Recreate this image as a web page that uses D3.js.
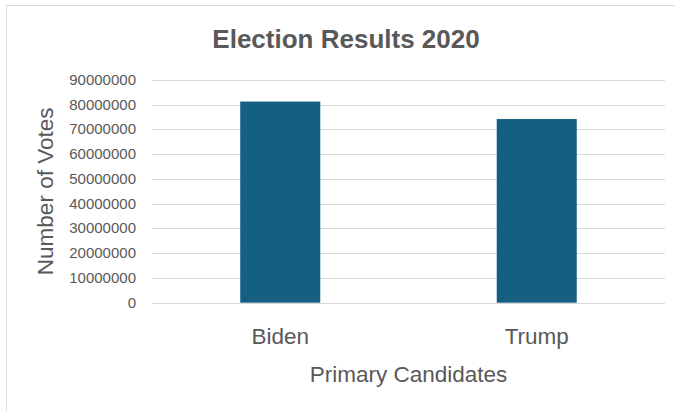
<!DOCTYPE html>
<html>
<head>
<meta charset="utf-8">
<script src="https://cdn.jsdelivr.net/npm/d3@7"></script>
<style>
  body { margin: 0; background: #fff; }
  text { font-family: "Liberation Sans", Arial, sans-serif; fill: #595959; }
</style>
</head>
<body>
<svg id="chart" width="675" height="411"></svg>
<script>
// data
var candidates = ["Biden", "Trump"];
var votes = [81283501, 74223975];
var yTicks = [0, 10000000, 20000000, 30000000, 40000000, 50000000, 60000000, 70000000, 80000000, 90000000];

var svg = d3.select("#chart");

// chart frame (only top and left edges fall inside the window)
svg.append("rect")
  .attr("x", 6.5).attr("y", 5.5)
  .attr("width", 700).attr("height", 450)
  .attr("fill", "none")
  .attr("stroke", "#d9d9d9");

var plotLeft = 152, plotRight = 665, plotTop = 80, plotBottom = 302.7;

var x = d3.scaleBand()
  .domain(candidates)
  .range([plotLeft, plotRight])
  .paddingInner(0.688)
  .paddingOuter(0.344);

var y = d3.scaleLinear()
  .domain([0, 90000000])
  .range([plotBottom, plotTop]);

// gridlines
svg.append("g")
  .selectAll("line")
  .data(yTicks)
  .join("line")
    .attr("x1", plotLeft).attr("x2", plotRight)
    .attr("y1", d => Math.round(y(d)) + 0.5)
    .attr("y2", d => Math.round(y(d)) + 0.5)
    .attr("stroke", "#d9d9d9")
    .attr("stroke-width", 1);

// y tick labels
svg.append("g")
  .selectAll("text")
  .data(yTicks)
  .join("text")
    .attr("x", 136)
    .attr("y", d => y(d) + 5)
    .attr("text-anchor", "end")
    .attr("font-size", 15)
    .text(d => d3.format("d")(d));

// bars
svg.append("g")
  .selectAll("rect")
  .data(votes)
  .join("rect")
    .attr("x", (d, i) => x(candidates[i]))
    .attr("width", x.bandwidth())
    .attr("y", d => y(d))
    .attr("height", d => y(0) - y(d))
    .attr("fill", "#156082");

// x labels
svg.append("g")
  .selectAll("text")
  .data(candidates)
  .join("text")
    .attr("x", d => x(d) + x.bandwidth() / 2)
    .attr("y", 344)
    .attr("text-anchor", "middle")
    .attr("font-size", 22.5)
    .text(d => d);

// title
svg.append("text")
  .attr("x", 346)
  .attr("y", 48)
  .attr("text-anchor", "middle")
  .attr("font-size", 26)
  .attr("font-weight", "bold")
  .text("Election Results 2020");

// axis titles
svg.append("text")
  .attr("x", (plotLeft + plotRight) / 2)
  .attr("y", 382)
  .attr("text-anchor", "middle")
  .attr("font-size", 22.5)
  .text("Primary Candidates");

svg.append("text")
  .attr("transform", "translate(53," + ((plotTop + plotBottom) / 2) + ") rotate(-90)")
  .attr("text-anchor", "middle")
  .attr("font-size", 22.5)
  .text("Number of Votes");
</script>
</body>
</html>
